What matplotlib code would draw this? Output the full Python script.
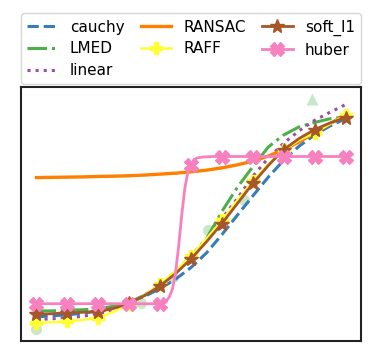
import matplotlib.pyplot as plt
import numpy as np

# noisy data (inliers as circles, one outlier as triangle)
data_x = [0.0, 3.39, 4.41, 5.54, 6.72]
data_y = [0.0, 1.13, 2.25, 4.27, 5.58]
outlier_x = [8.9]
outlier_y = [9.96]

# smooth curves sampled at half steps
xs = [0.0, 0.5, 1.0, 1.5, 2.0, 2.5, 3.0, 3.5, 4.0, 4.5, 5.0,
      5.5, 6.0, 6.5, 7.0, 7.5, 8.0, 8.5, 9.0, 9.5, 10.0]

cauchy = [0.54, 0.59, 0.63, 0.70, 0.80, 0.96, 1.17, 1.43, 1.76, 2.17, 2.67,
          3.30, 4.09, 4.93, 5.76, 6.57, 7.30, 7.91, 8.39, 8.78, 9.09]
lmed = [0.80, 0.80, 0.83, 0.85, 0.89, 1.00, 1.17, 1.48, 1.91, 2.48, 3.17,
        3.91, 5.09, 6.13, 7.02, 7.87, 8.39, 8.74, 8.93, 9.09, 9.17]
linear = [0.43, 0.46, 0.50, 0.57, 0.67, 0.87, 1.13, 1.48, 1.91, 2.48, 3.13,
          3.87, 4.78, 5.65, 6.61, 7.39, 8.04, 8.57, 9.02, 9.37, 9.70]
ransac = [6.55, 6.56, 6.57, 6.58, 6.60, 6.61, 6.63, 6.66, 6.70, 6.74, 6.80,
          6.87, 6.97, 7.10, 7.26, 7.48, 7.76, 8.09, 8.48, 8.87, 9.28]
raff = [0.29, 0.31, 0.35, 0.41, 0.51, 0.76, 1.09, 1.48, 1.96, 2.52, 3.17,
        3.91, 4.70, 5.57, 6.39, 7.13, 7.74, 8.17, 8.48, 8.87, 9.24]
soft_l1 = [0.65, 0.68, 0.72, 0.74, 0.77, 0.91, 1.13, 1.46, 1.88, 2.41, 3.04,
           3.78, 4.57, 5.43, 6.30, 7.07, 7.76, 8.24, 8.62, 8.91, 9.14]

# huber has a sharp step, so it is sampled more densely there
xs_huber = [0, 1, 2, 3, 4, 4.2, 4.3, 4.4, 4.5, 4.6, 4.7, 4.8, 4.9,
            5, 5.1, 5.2, 5.4, 5.7, 6, 7, 8, 9, 10]
huber = [1.11, 1.11, 1.11, 1.11, 1.11, 1.23, 1.40, 1.75, 2.45, 3.58, 4.93,
         6.09, 6.80, 7.11, 7.33, 7.40, 7.44, 7.46, 7.46, 7.46, 7.46, 7.46, 7.46]
huber_marks = [i for i, v in enumerate(xs_huber) if float(v).is_integer()]

fig = plt.figure(figsize=(3.75, 3.62), dpi=100)
ax = fig.add_axes([21/375, 1 - 341/362, 340/375, 254/362])

ax.plot(data_x, data_y, 'o', color='#4daf4a', alpha=0.3, ms=8, mec='none')
ax.plot(outlier_x, outlier_y, '^', color='#4daf4a', alpha=0.3, ms=8, mec='none')

ax.plot(xs, cauchy, '--', color='#377eb8', lw=2.2, label='cauchy')
ax.plot(xs, lmed, '-.', color='#4daf4a', lw=2.2, label='LMED')
ax.plot(xs, linear, ':', color='#984ea3', lw=2.2, label='linear')
ax.plot(xs, ransac, '-', color='#ff7f00', lw=2.4, label='RANSAC')
ax.plot(xs, raff, '-', color='#ffff33', lw=1.8, marker='P', ms=9,
        markevery=2, label='RAFF')
ax.plot(xs, soft_l1, '-', color='#a65628', lw=2, marker='*', ms=10,
        markevery=2, label='soft_l1')
ax.plot(xs_huber, huber, '-', color='#f781bf', lw=2, marker='X', ms=10,
        markevery=huber_marks, label='huber')

ax.set_xticks([])
ax.set_yticks([])
for s in ax.spines.values():
    s.set_linewidth(1.5)
    s.set_color('#222222')

ax.legend(loc='lower left', bbox_to_anchor=(0, 1.01, 1, 0.2), mode='expand',
          ncol=3, fontsize=11, borderaxespad=0, labelspacing=0.45)

plt.savefig('out.png', dpi=100)
